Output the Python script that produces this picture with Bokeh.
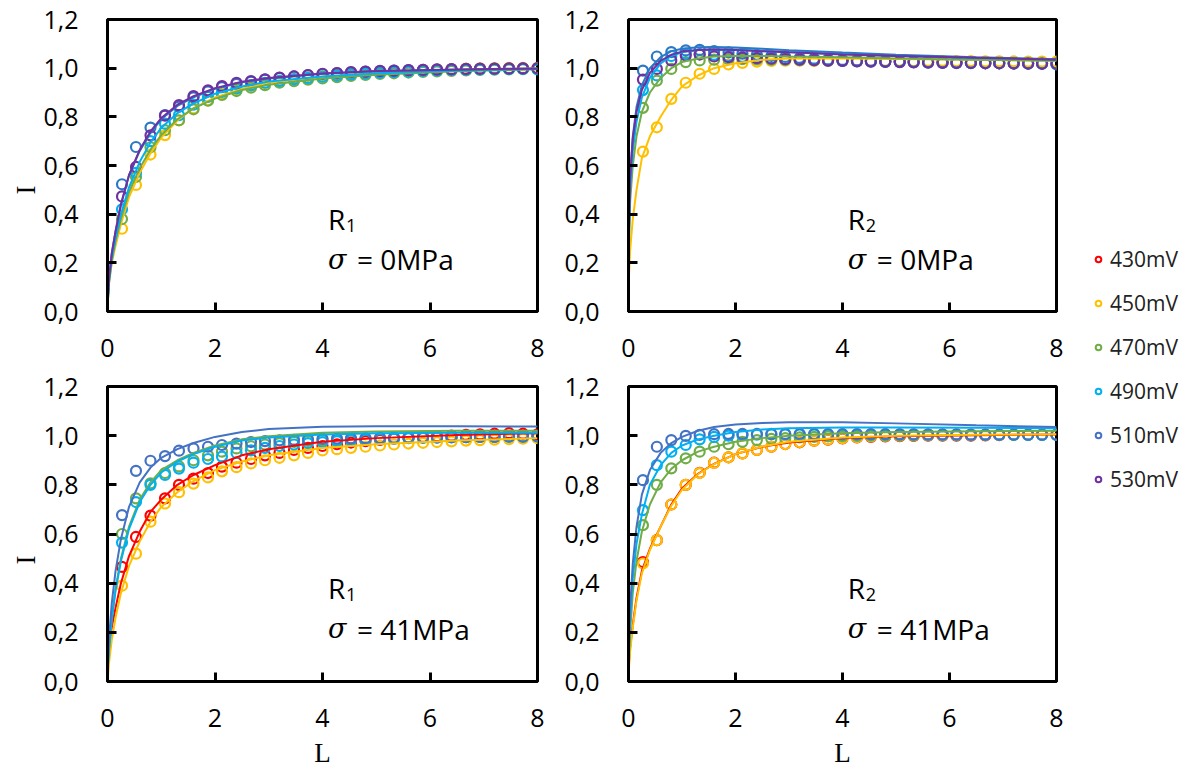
import math
from bokeh.plotting import figure
from bokeh.models import (Range1d, FixedTicker, CustomJSTickFormatter, Label, Title,
                          Legend, LegendItem)
from bokeh.layouts import row, column
from bokeh.embed import file_html
from bokeh.resources import INLINE

# ---------------- data ----------------
L = [0.27, 0.53, 0.80, 1.07, 1.33, 1.60, 1.87, 2.13, 2.40, 2.67, 2.93, 3.20, 3.47, 3.73, 4.00,
     4.27, 4.53, 4.80, 5.07, 5.33, 5.60, 5.87, 6.13, 6.40, 6.67, 6.93, 7.20, 7.47, 7.73, 8.00]
FIT_L = [0, 0.03, 0.08, 0.15, 0.25, 0.4, 0.6, 0.8, 1.0, 1.3, 1.6, 2.0, 2.5, 3.0, 4.0, 5.0, 6.5, 8.0]
SERIES = ["430mV", "450mV", "470mV", "490mV", "510mV", "530mV"]
X_TICKS = [0, 2, 4, 6, 8]
Y_TICKS = [0, 0.2, 0.4, 0.6, 0.8, 1.0, 1.2]

# R1, sigma = 0 MPa
R1_0_450 = [0.34, 0.52, 0.645, 0.725, 0.785, 0.835, 0.868, 0.893, 0.912, 0.927, 0.938, 0.948, 0.955, 0.962, 0.968,
            0.972, 0.977, 0.980, 0.984, 0.987, 0.990, 0.992, 0.994, 0.996, 0.998, 0.999, 1.000, 1.001, 1.001, 1.001]
R1_0_470 = [0.38, 0.553, 0.675, 0.745, 0.786, 0.831, 0.866, 0.890, 0.906, 0.920, 0.930, 0.940, 0.947, 0.953, 0.958,
            0.963, 0.968, 0.972, 0.976, 0.979, 0.982, 0.985, 0.987, 0.989, 0.991, 0.993, 0.994, 0.995, 0.996, 0.997]
R1_0_490 = [0.42, 0.57, 0.70, 0.772, 0.807, 0.85, 0.882, 0.902, 0.917, 0.93, 0.94, 0.948, 0.955, 0.96, 0.965,
            0.97, 0.974, 0.978, 0.981, 0.984, 0.987, 0.989, 0.991, 0.993, 0.994, 0.995, 0.996, 0.997, 0.997, 0.995]
R1_0_510 = [0.523, 0.676, 0.756, 0.807, 0.842, 0.880, 0.905, 0.922, 0.935, 0.945, 0.953, 0.960, 0.966, 0.971, 0.976,
            0.980, 0.983, 0.986, 0.988, 0.990, 0.992, 0.993, 0.994, 0.995, 0.996, 0.997, 0.998, 0.998, 0.999, 0.998]
R1_0_530 = [0.473, 0.594, 0.724, 0.805, 0.848, 0.885, 0.909, 0.926, 0.940, 0.947, 0.954, 0.961, 0.966, 0.972, 0.977,
            0.980, 0.984, 0.986, 0.989, 0.990, 0.992, 0.993, 0.995, 0.996, 0.997, 0.998, 0.998, 0.999, 0.999, 1.000]
F1_0_450 = [0.02, 0.12, 0.20, 0.27, 0.36, 0.47, 0.57, 0.65, 0.715, 0.785, 0.835, 0.88, 0.915, 0.94, 0.965, 0.98, 0.992, 1.0]
F1_0_470 = [0.02, 0.12, 0.21, 0.29, 0.38, 0.49, 0.59, 0.665, 0.725, 0.79, 0.835, 0.875, 0.91, 0.932, 0.958, 0.973, 0.987, 0.996]
F1_0_490 = [0.02, 0.13, 0.22, 0.30, 0.40, 0.51, 0.615, 0.695, 0.755, 0.815, 0.855, 0.895, 0.925, 0.945, 0.966, 0.979, 0.99, 0.997]
F1_0_510 = [0.03, 0.14, 0.24, 0.33, 0.44, 0.56, 0.66, 0.735, 0.79, 0.845, 0.88, 0.915, 0.942, 0.958, 0.977, 0.987, 0.994, 0.998]
F1_0_530 = [0.03, 0.14, 0.24, 0.33, 0.44, 0.56, 0.665, 0.74, 0.795, 0.85, 0.885, 0.918, 0.944, 0.96, 0.978, 0.988, 0.995, 0.999]

# R2, sigma = 0 MPa
R2_0_450 = [0.657, 0.757, 0.874, 0.94, 0.977, 0.997, 1.015, 1.022, 1.027, 1.030, 1.031, 1.031, 1.030, 1.030, 1.031,
            1.031, 1.030, 1.030, 1.030, 1.029, 1.030, 1.030, 1.029, 1.029, 1.028, 1.028, 1.028, 1.027, 1.027, 1.027]
R2_0_470 = [0.837, 0.949, 0.997, 1.025, 1.032, 1.035, 1.037, 1.037, 1.036, 1.035, 1.034, 1.033, 1.032, 1.031, 1.030,
            1.029, 1.028, 1.027, 1.026, 1.025, 1.024, 1.023, 1.022, 1.022, 1.021, 1.021, 1.020, 1.020, 1.020, 1.020]
R2_0_490 = [0.91, 0.97, 1.05, 1.06, 1.058, 1.055, 1.05, 1.047, 1.044, 1.041, 1.038, 1.036, 1.034, 1.032, 1.030,
            1.029, 1.028, 1.027, 1.026, 1.025, 1.024, 1.023, 1.022, 1.021, 1.020, 1.020, 1.019, 1.018, 1.018, 1.015]
R2_0_510 = [0.99, 1.048, 1.066, 1.073, 1.075, 1.07, 1.065, 1.06, 1.055, 1.05, 1.046, 1.042, 1.039, 1.036, 1.034,
            1.032, 1.030, 1.028, 1.027, 1.026, 1.025, 1.024, 1.023, 1.022, 1.021, 1.020, 1.020, 1.019, 1.019, 1.018]
R2_0_530 = [0.953, 0.997, 1.032, 1.052, 1.056, 1.048, 1.045, 1.043, 1.041, 1.039, 1.037, 1.035, 1.033, 1.031, 1.030,
            1.028, 1.027, 1.026, 1.025, 1.024, 1.023, 1.022, 1.021, 1.021, 1.020, 1.020, 1.019, 1.019, 1.018, 1.018]
F2_0_450 = [0.10, 0.25, 0.38, 0.50, 0.63, 0.72, 0.80, 0.87, 0.925, 0.97, 1.0, 1.02, 1.035, 1.04, 1.04, 1.038, 1.035, 1.03]
F2_0_470 = [0.20, 0.45, 0.60, 0.72, 0.82, 0.90, 0.96, 1.0, 1.025, 1.04, 1.048, 1.05, 1.05, 1.048, 1.045, 1.04, 1.035, 1.03]
F2_0_490 = [0.22, 0.50, 0.66, 0.78, 0.88, 0.96, 1.02, 1.05, 1.065, 1.075, 1.078, 1.077, 1.072, 1.066, 1.058, 1.05, 1.042, 1.035]
F2_0_510 = [0.25, 0.55, 0.72, 0.84, 0.93, 1.0, 1.045, 1.07, 1.08, 1.086, 1.087, 1.085, 1.08, 1.074, 1.064, 1.055, 1.045, 1.037]
F2_0_530 = [0.25, 0.55, 0.71, 0.82, 0.91, 0.98, 1.03, 1.055, 1.068, 1.075, 1.077, 1.075, 1.07, 1.065, 1.056, 1.05, 1.043, 1.035]

# R1, sigma = 41 MPa
R1_41_430 = [0.466, 0.588, 0.675, 0.745, 0.800, 0.825, 0.848, 0.874, 0.890, 0.905, 0.920, 0.930, 0.942, 0.950, 0.958,
             0.965, 0.972, 0.978, 0.983, 0.988, 0.992, 0.995, 0.998, 1.000, 1.003, 1.005, 1.008, 1.010, 1.008, 1.005]
R1_41_450 = [0.39, 0.52, 0.65, 0.724, 0.77, 0.805, 0.83, 0.855, 0.872, 0.887, 0.9, 0.91, 0.92, 0.93, 0.94,
             0.945, 0.95, 0.955, 0.96, 0.964, 0.968, 0.971, 0.974, 0.977, 0.98, 0.982, 0.984, 0.986, 0.988, 0.99]
R1_41_470 = [0.600, 0.745, 0.806, 0.848, 0.875, 0.900, 0.920, 0.935, 0.948, 0.957, 0.964, 0.970, 0.975, 0.979, 0.982,
             0.984, 0.986, 0.988, 0.990, 0.991, 0.992, 0.993, 0.994, 0.995, 0.995, 0.996, 0.996, 0.997, 0.997, 0.998]
R1_41_490 = [0.565, 0.730, 0.800, 0.840, 0.866, 0.890, 0.905, 0.915, 0.930, 0.940, 0.950, 0.958, 0.964, 0.970, 0.974,
             0.978, 0.981, 0.984, 0.986, 0.988, 0.990, 0.991, 0.992, 0.993, 0.994, 0.995, 0.995, 0.996, 0.996, 0.997]
R1_41_510 = [0.677, 0.857, 0.898, 0.917, 0.939, 0.948, 0.955, 0.962, 0.968, 0.974, 0.978, 0.981, 0.983, 0.985, 0.987,
             0.988, 0.989, 0.990, 0.991, 0.992, 0.992, 0.993, 0.993, 0.994, 0.994, 0.995, 0.995, 0.996, 0.996, 0.997]
F1_41_430 = [0.10, 0.15, 0.22, 0.30, 0.40, 0.51, 0.61, 0.69, 0.74, 0.80, 0.84, 0.88, 0.92, 0.945, 0.975, 0.99, 1.003, 1.01]
F1_41_450 = [0.0, 0.08, 0.17, 0.26, 0.36, 0.47, 0.57, 0.65, 0.71, 0.77, 0.815, 0.86, 0.895, 0.92, 0.95, 0.965, 0.98, 0.99]
F1_41_470 = [0.04, 0.14, 0.26, 0.38, 0.50, 0.63, 0.74, 0.81, 0.86, 0.90, 0.93, 0.96, 0.985, 0.998, 1.012, 1.017, 1.02, 1.02]
F1_41_490 = [0.04, 0.13, 0.25, 0.37, 0.49, 0.62, 0.73, 0.80, 0.85, 0.895, 0.925, 0.955, 0.98, 0.993, 1.005, 1.01, 1.012, 1.012]
F1_41_510 = [0.05, 0.18, 0.32, 0.45, 0.58, 0.71, 0.81, 0.87, 0.91, 0.945, 0.97, 0.995, 1.015, 1.027, 1.036, 1.038, 1.038, 1.037]

# R2, sigma = 41 MPa
R2_41_430 = [0.486, 0.575, 0.72, 0.80, 0.849, 0.89, 0.912, 0.928, 0.942, 0.955, 0.966, 0.973, 0.98, 0.984, 0.989,
             0.993, 0.995, 0.997, 0.998, 0.999, 1.0, 1.0, 1.0, 1.0, 1.001, 1.002]
R2_41_450 = [0.48, 0.575, 0.72, 0.80, 0.848, 0.889, 0.912, 0.928, 0.942, 0.955, 0.966, 0.974, 0.98, 0.985, 0.99,
             0.994, 0.997, 0.999, 1.0, 1.001, 1.002, 1.002, 1.003, 1.003, 1.003, 1.003, 1.003, 1.003, 1.003, 1.003]
R2_41_470 = [0.636, 0.80, 0.867, 0.908, 0.935, 0.955, 0.965, 0.975, 0.982, 0.987, 0.99, 0.993, 0.995, 0.997, 0.998,
             0.999, 1.0, 1.0, 1.001, 1.001, 1.002, 1.002, 1.002, 1.002, 1.003, 1.003, 1.003, 1.003, 1.003, 1.003]
R2_41_490 = [0.697, 0.88, 0.935, 0.962, 0.985, 0.995, 1.0, 1.002, 1.004, 1.005, 1.005, 1.005, 1.005, 1.005, 1.005,
             1.005, 1.005, 1.005, 1.005, 1.005, 1.004, 1.004, 1.004, 1.004, 1.004, 1.004, 1.004, 1.003, 1.003, 1.003]
R2_41_510 = [0.819, 0.955, 0.982, 0.999, 1.003, 1.006, 1.007, 1.007, 1.007, 1.007, 1.007, 1.007, 1.007, 1.006, 1.006,
             1.006, 1.006, 1.006, 1.005, 1.005, 1.005, 1.005, 1.005, 1.004, 1.004, 1.004, 1.004, 1.004, 1.004, 1.004]
F2_41_430 = [0.05, 0.14, 0.23, 0.34, 0.45, 0.54, 0.63, 0.72, 0.785, 0.845, 0.885, 0.925, 0.955, 0.972, 0.99, 0.998, 1.002, 1.005]
F2_41_450 = [0.03, 0.12, 0.22, 0.33, 0.44, 0.535, 0.63, 0.715, 0.78, 0.843, 0.884, 0.925, 0.956, 0.975, 0.993, 1.0, 1.004, 1.006]
F2_41_470 = [0.05, 0.20, 0.36, 0.49, 0.61, 0.72, 0.81, 0.865, 0.90, 0.935, 0.955, 0.975, 0.99, 1.0, 1.01, 1.015, 1.018, 1.02]
F2_41_490 = [0.08, 0.25, 0.42, 0.56, 0.68, 0.80, 0.88, 0.93, 0.96, 0.985, 1.0, 1.015, 1.025, 1.03, 1.033, 1.033, 1.032, 1.03]
F2_41_510 = [0.10, 0.30, 0.48, 0.63, 0.76, 0.86, 0.93, 0.97, 0.995, 1.02, 1.035, 1.045, 1.052, 1.055, 1.055, 1.05, 1.042, 1.035]

COLORS = {"430mV": "#FF0000", "450mV": "#FFC000", "470mV": "#70AD47",
          "490mV": "#00B0F0", "510mV": "#4472C4", "530mV": "#7030A0"}
BLUE_TOP = "#2A78C6"

PANELS = [
    dict(name="R", sub="1", stress="= 0MPa",
         pts={"450mV": R1_0_450, "470mV": R1_0_470, "490mV": R1_0_490, "510mV": R1_0_510, "530mV": R1_0_530},
         fit={"450mV": F1_0_450, "470mV": F1_0_470, "490mV": F1_0_490, "510mV": F1_0_510, "530mV": F1_0_530}),
    dict(name="R", sub="2", stress="= 0MPa",
         pts={"450mV": R2_0_450, "470mV": R2_0_470, "490mV": R2_0_490, "510mV": R2_0_510, "530mV": R2_0_530},
         fit={"450mV": F2_0_450, "470mV": F2_0_470, "490mV": F2_0_490, "510mV": F2_0_510, "530mV": F2_0_530}),
    dict(name="R", sub="1", stress="= 41MPa",
         pts={"430mV": R1_41_430, "450mV": R1_41_450, "470mV": R1_41_470, "490mV": R1_41_490, "510mV": R1_41_510},
         fit={"430mV": F1_41_430, "450mV": F1_41_450, "470mV": F1_41_470, "490mV": F1_41_490, "510mV": F1_41_510}),
    dict(name="R", sub="2", stress="= 41MPa",
         pts={"430mV": R2_41_430, "450mV": R2_41_450, "470mV": R2_41_470, "490mV": R2_41_490, "510mV": R2_41_510},
         fit={"430mV": F2_41_430, "450mV": F2_41_450, "470mV": F2_41_470, "490mV": F2_41_490, "510mV": F2_41_510}),
]

FONT = "Open Sans"
SERIF = "Liberation Serif"


def make_panel(idx, width, height, bl, br, bt, bb):
    cfg = PANELS[idx]
    top = idx < 2
    left = idx % 2 == 0
    p = figure(width=width, height=height, x_range=Range1d(0, 8), y_range=Range1d(0, 1.2),
               output_backend="svg", toolbar_location=None,
               min_border_left=bl, min_border_right=br, min_border_top=bt, min_border_bottom=bb)
    p.xgrid.visible = False
    p.ygrid.visible = False
    p.background_fill_color = "white"
    p.border_fill_color = "white"
    p.outline_line_color = "black"
    p.outline_line_width = 3
    p.xaxis.ticker = FixedTicker(ticks=X_TICKS)
    p.yaxis.ticker = FixedTicker(ticks=Y_TICKS)
    p.yaxis.formatter = CustomJSTickFormatter(code="return tick.toFixed(1).replace('.', ',');")
    for ax in (p.xaxis, p.yaxis):
        ax.minor_tick_line_color = None
        ax.major_tick_in = 9
        ax.major_tick_out = 0
        ax.major_tick_line_width = 3
        ax.major_tick_line_color = "black"
        ax.axis_line_width = 3
        ax.axis_line_color = "black"
        ax.major_label_text_font = FONT
        ax.major_label_text_font_size = "25px"
        ax.major_label_text_color = "black"
    p.yaxis.major_label_standoff = 29
    p.xaxis.major_label_standoff = 27

    order = [s for s in SERIES if s in cfg["pts"]]
    for s in order:
        c = COLORS[s]
        if s == "510mV" and top:
            c = BLUE_TOP
        ys = cfg["pts"][s]
        p.scatter(L[:len(ys)], ys, marker="circle", size=10, line_color=c, fill_color=None, line_width=2.2)
    for s in order:
        c = COLORS[s]
        if s == "510mV" and top:
            c = BLUE_TOP
        p.line(FIT_L, cfg["fit"][s], line_color=c, line_width=2)

    # annotations inside the frame
    p.add_layout(Label(x=4.1, y=0.38, text=cfg["name"], text_font=FONT, text_font_size="28px",
                       text_color="black", text_baseline="alphabetic", text_align="left"))
    p.add_layout(Label(x=4.1, y=0.38, x_offset=18, y_offset=-6, text=cfg["sub"], text_font=FONT,
                       text_font_size="18px", text_color="black", text_baseline="alphabetic", text_align="left"))
    p.add_layout(Label(x=4.1, y=0.215, text="\u03c3", text_font="DejaVu Serif", text_font_style="italic",
                       text_font_size="27px", text_color="black", text_baseline="alphabetic", text_align="left"))
    p.add_layout(Label(x=4.1, y=0.215, x_offset=29, text=cfg["stress"], text_font=FONT, text_font_size="28px",
                       text_color="black", text_baseline="alphabetic", text_align="left"))
    if left:
        t = Title(text="I", align="left", offset=117, standoff=0, text_font=SERIF,
                  text_font_size="27px", text_font_style="normal", text_color="black")
        p.add_layout(t, "left")
    if not top:
        p.xaxis.axis_label = "L"
        p.xaxis.axis_label_text_font = SERIF
        p.xaxis.axis_label_text_font_size = "27px"
        p.xaxis.axis_label_text_font_style = "normal"
        p.xaxis.axis_label_text_color = "black"
        p.xaxis.axis_label_standoff = 8
    return p


p1 = make_panel(0, 557, 367, 107, 20, 19, 56)
p3 = make_panel(2, 557, 403, 107, 20, 19, 89)
p2 = make_panel(1, 509, 367, 71, 10, 19, 56)
p4 = make_panel(3, 509, 403, 71, 10, 19, 89)

pleg = figure(width=113, height=770, output_backend="svg", toolbar_location=None,
              x_range=Range1d(0, 1), y_range=Range1d(0, 1),
              x_axis_location=None, y_axis_location=None, min_border=0)
pleg.xgrid.visible = False
pleg.ygrid.visible = False
pleg.outline_line_color = None
items = []
for s in SERIES:
    r = pleg.scatter(x=[5], y=[5], marker="circle", size=10, line_color=COLORS[s], fill_color=None, line_width=2)
    items.append(LegendItem(label=s, renderers=[r]))
legend = Legend(items=items, location=(25, 277), glyph_width=14, glyph_height=14, label_standoff=5,
                spacing=16, padding=0, margin=0, border_line_color=None, background_fill_alpha=0,
                label_text_font=FONT, label_text_font_size="21px", label_text_color="#222222")
pleg.add_layout(legend)

layout = row(column(p1, p3), column(p2, p4), pleg)
open("out.html", "w").write(file_html(layout, INLINE))
